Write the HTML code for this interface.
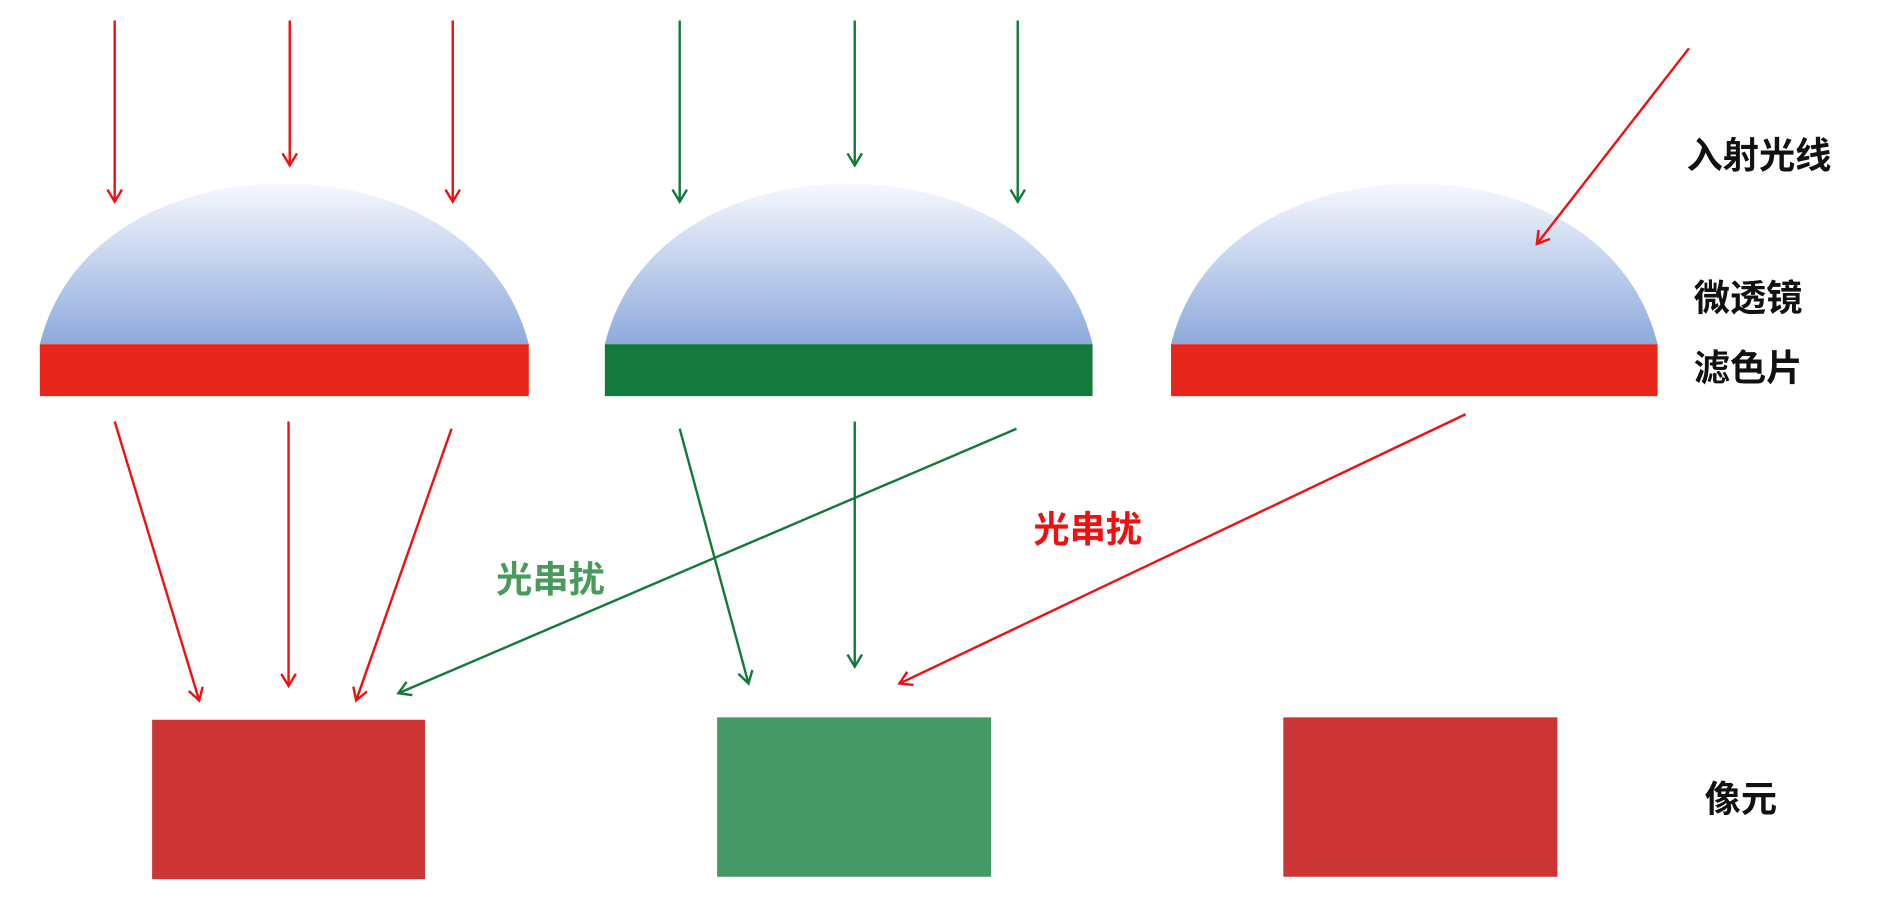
<!DOCTYPE html>
<html><head><meta charset="utf-8"><style>html,body{margin:0;padding:0;background:#fff;}svg{display:block}</style></head>
<body>
<svg width="1893" height="913" viewBox="0 0 1568 756" preserveAspectRatio="none" xmlns="http://www.w3.org/2000/svg">
<defs>
<linearGradient id="g" x1="0" y1="0" x2="0" y2="1"><stop offset="0" stop-color="#f6f8fd"/><stop offset="1" stop-color="#8eaadd"/></linearGradient>
<marker id="ar" markerWidth="14" markerHeight="14" refX="11" refY="7" orient="auto" markerUnits="userSpaceOnUse"><path d="M1,1 L11,7 L1,13" fill="none" stroke="#f01010" stroke-width="2"/></marker>
<marker id="ag" markerWidth="14" markerHeight="14" refX="11" refY="7" orient="auto" markerUnits="userSpaceOnUse"><path d="M1,1 L11,7 L1,13" fill="none" stroke="#137a3c" stroke-width="2"/></marker>
</defs>
<g fill="url(#g)">
<path d="M33 285 C55 195,145 152,235 152 C325 152,415 195,438 285 Z"/>
<path d="M501 285 C523 195,613 152,703 152 C793 152,883 195,905 285 Z"/>
<path d="M970 285 C992 195,1082 152,1172 152 C1262 152,1351 195,1373 285 Z"/>
</g>
<rect x="33" y="285" width="405" height="43" fill="#e6261a"/>
<rect x="501" y="285" width="404" height="43" fill="#137a3c"/>
<rect x="970" y="285" width="403" height="43" fill="#e6261a"/>
<rect x="126" y="596" width="226" height="132" fill="#cc3535"/>
<rect x="594" y="594" width="227" height="132" fill="#449966"/>
<rect x="1063" y="594" width="227" height="132" fill="#cc3535"/>
<g stroke="#f01010" stroke-width="2" marker-end="url(#ar)">
<line x1="95" y1="17" x2="95" y2="167"/>
<line x1="240" y1="17" x2="240" y2="137"/>
<line x1="375" y1="17" x2="375" y2="167"/>
<line x1="1399" y1="40" x2="1273" y2="202"/>
<line x1="95" y1="349" x2="165" y2="580"/>
<line x1="239" y1="349" x2="239" y2="568"/>
<line x1="374" y1="355" x2="295" y2="580"/>
<line x1="1214" y1="343" x2="745" y2="566"/>
</g>
<g stroke="#137a3c" stroke-width="2" marker-end="url(#ag)">
<line x1="563" y1="17" x2="563" y2="167"/>
<line x1="708" y1="17" x2="708" y2="137"/>
<line x1="843" y1="17" x2="843" y2="167"/>
<line x1="563" y1="355" x2="620" y2="566"/>
<line x1="708" y1="349" x2="708" y2="552"/>
<line x1="842" y1="355" x2="330" y2="574"/>
</g>
<g font-family="Liberation Sans, Noto Sans CJK SC, sans-serif" font-weight="bold" font-size="30">
<text x="1397" y="139" fill="#111">入射光线</text>
<text x="1403" y="257" fill="#111">微透镜</text>
<text x="1403" y="315" fill="#111">滤色片</text>
<text x="1412" y="672" fill="#111">像元</text>
<text x="411" y="490" fill="#4a9a5e">光串扰</text>
<text x="856" y="449" fill="#f01010">光串扰</text>
</g>
</svg>
</body></html>
